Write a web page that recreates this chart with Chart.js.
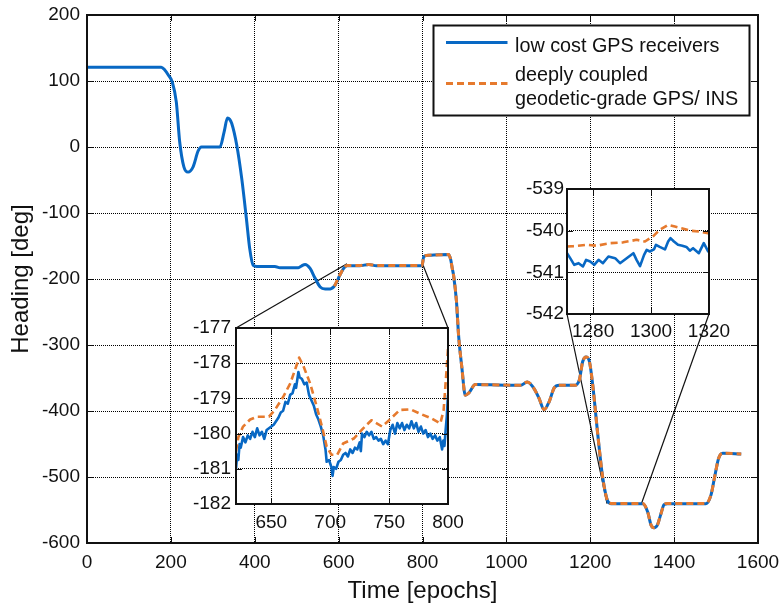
<!DOCTYPE html>
<html><head><meta charset="utf-8">
<script src="https://cdn.jsdelivr.net/npm/chart.js@4/dist/chart.umd.min.js"></script>
<style>
html,body{margin:0;padding:0;background:#fff;}
#wrap{position:relative;width:781px;height:607px;overflow:hidden;background:#fff;}
#wrap canvas{position:absolute;}
</style></head><body>
<div id="wrap">
<canvas id="main" width="781" height="607" style="left:0px;top:0px"></canvas>
<canvas id="inset1" width="300" height="222" style="left:176px;top:318px"></canvas>
<canvas id="inset2" width="235" height="168" style="left:507px;top:179px"></canvas>
</div>
<script>
// ---------------- data ----------------
const seriesLabels = ['low cost GPS receivers', ['deeply coupled', 'geodetic-grade GPS/ INS']];
const xTitle = 'Time [epochs]';
const yTitle = 'Heading [deg]';

const mainXTicks = [0, 200, 400, 600, 800, 1000, 1200, 1400, 1600];
const mainYTicks = [-600, -500, -400, -300, -200, -100, 0, 100, 200];

const lowCostEpoch = [0,177,185,195,203,213,221,231,241,253,265,273,317,327,335,340,345,357,369,380,388,396,405,448,460,504,512,520,532,544,556,568,580,592,603,612,620,650,672,690,750,799,803,815,862,867,871,874,881,886,894,902,910,926,1034,1050,1066,1078,1090,1102,1114,1126,1162,1174,1182,1190,1198,1206,1218,1230,1242,1250,1325,1337,1345,1352,1360,1368,1376,1384,1476,1488,1496,1506,1516,1560];
const lowCostHeading = [121,121,117,108,99,68,8,-30,-38,-30,-6,0,0,23,44,42,36,3,-48,-108,-154,-179,-181,-181,-183,-183,-180,-178,-184,-199,-212,-215,-215,-209,-194,-184,-180,-180,-178,-180,-180,-180,-166,-164,-163,-170,-184,-194,-234,-285,-335,-376,-373,-360,-361,-356,-366,-381,-398,-386,-365,-361,-361,-353,-325,-318,-325,-361,-436,-502,-537,-540.5,-540.5,-553,-573,-577,-573,-557,-542,-540.5,-540.5,-527,-502,-472,-464,-465];

const coupledEpoch = [590,603,612,620,650,672,690,750,799,803,815,862,867,871,874,881,886,894,902,910,926,1034,1050,1066,1078,1090,1102,1114,1126,1162,1174,1182,1190,1198,1206,1218,1230,1242,1250,1325,1337,1345,1352,1360,1368,1376,1384,1476,1488,1496,1506,1516,1560];
const coupledHeading = [-211,-194,-184,-179.5,-179.5,-178,-179.5,-179.5,-179.5,-166,-164,-163,-170,-184,-194,-234,-285,-335,-376,-373,-360,-361,-356,-366,-381,-398,-386,-365,-361,-361,-353,-325,-318,-325,-361,-436,-502,-537,-540,-540,-553,-573,-577,-573,-557,-542,-540,-540,-527,-502,-472,-464,-465];

// inset 1 (epochs 620-800)
const inset1XTicks = [650, 700, 750, 800];
const inset1YTicks = [-182, -181, -180, -179, -178, -177];
const inset1LowEpoch = [620,621,622,623,624,626,628,630,632,634,636,638,640,642,644,646,648,650,652,654,656,658,660,662,664,666,668,670,671,673,674,676,678,680,682,684,686,688,690,692,694,696,697,699,701,702,703,705,707,709,711,713,715,717,719,721,723,725,726,727,729,731,733,735,737,739,741,743,745,747,749,751,753,755,757,759,761,763,765,767,769,771,773,775,777,779,781,783,785,787,789,791,793,795,796,797,798,799,800];
const inset1LowHeading = [-181.0,-180.6,-180.75,-180.3,-180.4,-180.1,-180.25,-180.05,-180.15,-179.95,-180.1,-179.85,-180.05,-179.95,-180.15,-179.9,-179.85,-179.8,-179.75,-179.65,-179.55,-179.4,-179.35,-179.1,-179.15,-178.9,-178.85,-178.6,-178.7,-178.25,-178.4,-178.45,-178.6,-178.55,-178.9,-179.05,-179.2,-179.45,-179.6,-179.8,-180.05,-180.45,-180.8,-180.75,-180.95,-181.2,-180.95,-181.0,-180.8,-180.75,-180.6,-180.55,-180.65,-180.45,-180.55,-180.4,-180.45,-180.25,-180.5,-180.0,-180.1,-179.95,-180.05,-179.95,-180.15,-180.1,-180.2,-180.15,-180.3,-180.2,-180.3,-179.9,-179.75,-180.0,-179.7,-179.85,-179.7,-179.9,-179.75,-179.85,-179.65,-179.85,-179.7,-179.95,-179.8,-180.0,-179.9,-180.1,-180.0,-180.15,-180.05,-180.2,-180.1,-180.45,-180.2,-180.35,-179.9,-179.5,-178.9];
const inset1CoupledEpoch = [620,622,626,632,638,648,653,660,666,670,673.6,677,683,688.6,693,697,701,706,711,720,728,735,744,750,759,768,776,786,793.5,796.3,799.2,800];
const inset1CoupledHeading = [-180.5,-180.1,-179.8,-179.6,-179.52,-179.52,-179.33,-178.96,-178.58,-178.2,-177.84,-178.06,-178.58,-179.24,-179.8,-180.37,-180.6,-180.6,-180.28,-180.14,-179.85,-179.62,-179.8,-179.62,-179.33,-179.31,-179.43,-179.57,-179.71,-179.33,-178.0,-177.6];

// inset 2 (epochs 1271-1320)
const inset2XTicks = [1280, 1300, 1320];
const inset2YTicks = [-542, -541, -540, -539];
const inset2LowEpoch = [1271,1272.1,1273.5,1275,1276.5,1277.6,1279,1280.4,1281.9,1283.4,1285.3,1287.6,1289.3,1291.6,1293.9,1295,1296.2,1297.6,1298.5,1299.6,1301,1301.7,1303,1304.8,1305.9,1306.7,1307.9,1309.3,1310.8,1312.2,1313.4,1314.5,1316.5,1318.2,1319.7,1320];
const inset2LowHeading = [-540.54,-540.66,-540.82,-540.78,-540.86,-540.7,-540.74,-540.82,-540.7,-540.78,-540.62,-540.66,-540.78,-540.66,-540.54,-540.7,-540.85,-540.58,-540.46,-540.5,-540.45,-540.34,-540.39,-540.45,-540.26,-540.18,-540.26,-540.34,-540.36,-540.39,-540.48,-540.42,-540.54,-540.3,-540.5,-540.45];
const inset2CoupledEpoch = [1271,1273.3,1277.9,1281.3,1285.9,1290.4,1295,1297.9,1300.8,1303,1305.9,1308.2,1310.5,1313.4,1316.8,1319.7,1320];
const inset2CoupledHeading = [-540.38,-540.37,-540.34,-540.36,-540.3,-540.28,-540.22,-540.26,-540.13,-539.98,-539.86,-539.9,-539.94,-540.0,-540.02,-540.06,-540.07];

// zoom connector anchors (data coordinates on the main axes)
const zoomLinks = [
  {inset: 'inset1', corner: 'topLeft', x: 620, y: -177},
  {inset: 'inset1', corner: 'topRight', x: 800, y: -177},
  {inset: 'inset2', corner: 'bottomLeft', x: 1240, y: -540.5},
  {inset: 'inset2', corner: 'bottomRight', x: 1322, y: -540.5}
];

// ---------------- style ----------------
const FONT = "'Liberation Sans', Arial, Helvetica, sans-serif";
const BLUE = '#0868c4';
const ORANGE = '#e67a2e';
const INK = '#111';

const pts = (xs, ys) => xs.map((x, i) => ({x: x, y: ys[i]}));
const setTicks = arr => s => { s.ticks = arr.map(v => ({value: v})); };

const framePlugin = {
  id: 'frame',
  beforeDraw(chart) {
    const a = chart.chartArea, c = chart.ctx;
    c.save(); c.fillStyle = '#fff';
    c.fillRect(a.left, a.top, a.right - a.left, a.bottom - a.top);
    c.restore();
  },
  afterDatasetsDraw(chart) {
    const a = chart.chartArea, c = chart.ctx, xs = chart.scales.x, ys = chart.scales.y, L = 6;
    c.save();
    c.strokeStyle = INK; c.lineWidth = 1;
    c.beginPath();
    xs.ticks.forEach(t => {
      const p = Math.round(xs.getPixelForValue(t.value)) + 0.5;
      c.moveTo(p, a.bottom); c.lineTo(p, a.bottom - L);
      c.moveTo(p, a.top); c.lineTo(p, a.top + L);
    });
    ys.ticks.forEach(t => {
      const p = Math.round(ys.getPixelForValue(t.value)) + 0.5;
      c.moveTo(a.left, p); c.lineTo(a.left + L, p);
      c.moveTo(a.right, p); c.lineTo(a.right - L, p);
    });
    c.stroke();
    c.lineWidth = 2;
    c.strokeRect(a.left, a.top, a.right - a.left, a.bottom - a.top);
    c.restore();
  }
};

function fixSize(isX, size) {
  return s => {
    if (isX) s.height = size; else s.width = size;
    s.paddingLeft = 0; s.paddingRight = 0; s.paddingTop = 0; s.paddingBottom = 0;
  };
}

function axisCfg(min, max, ticksArr, isX, size, pad, title, titlePad) {
  const cfg = {
    type: 'linear', min: min, max: max,
    afterBuildTicks: setTicks(ticksArr),
    afterFit: fixSize(isX, size),
    ticks: {font: {family: FONT, size: 19}, color: INK, padding: pad, maxRotation: 0, autoSkip: false,
            callback: v => String(v)},
    grid: {color: '#000', lineWidth: 1, drawTicks: false},
    border: {display: false, dash: [1, 1]}
  };
  if (title) cfg.title = {display: true, text: title, color: INK, font: {family: FONT, size: 24}, padding: titlePad};
  return cfg;
}

function lineDs(label, data, color, dashed, width, mono, order) {
  return {
    label: label, data: data, borderColor: color, backgroundColor: color,
    borderWidth: width, borderDash: dashed ? [7, 4] : [], pointRadius: 0, fill: false,
    cubicInterpolationMode: mono ? 'monotone' : 'default', tension: 0, order: order,
    borderCapStyle: 'butt', borderJoinStyle: 'round'
  };
}

const baseOpts = {
  responsive: false, animation: false, devicePixelRatio: 1,
  plugins: {legend: {display: false}, tooltip: {enabled: false}}
};

// ---------------- insets ----------------
const insetCharts = {};
insetCharts.inset1 = new Chart(document.getElementById('inset1'), {
  type: 'line',
  data: {datasets: [
    lineDs(seriesLabels[0], pts(inset1LowEpoch, inset1LowHeading), BLUE, false, 2.6, false, 2),
    lineDs(seriesLabels[1].join(' '), pts(inset1CoupledEpoch, inset1CoupledHeading), ORANGE, true, 2.6, false, 1)
  ]},
  options: Object.assign({}, baseOpts, {
    layout: {padding: {left: 0, top: 10, right: 28, bottom: 0}},
    scales: {
      x: axisCfg(620, 800, inset1XTicks, true, 36, 7),
      y: axisCfg(-182, -177, inset1YTicks, false, 60, 5)
    }
  }),
  plugins: [framePlugin]
});
insetCharts.inset2 = new Chart(document.getElementById('inset2'), {
  type: 'line',
  data: {datasets: [
    lineDs(seriesLabels[0], pts(inset2LowEpoch, inset2LowHeading), BLUE, false, 2.6, false, 2),
    lineDs(seriesLabels[1].join(' '), pts(inset2CoupledEpoch, inset2CoupledHeading), ORANGE, true, 2.6, false, 1)
  ]},
  options: Object.assign({}, baseOpts, {
    layout: {padding: {left: 0, top: 10, right: 33, bottom: 0}},
    scales: {
      x: axisCfg(1271, 1320, inset2XTicks, true, 33, 6),
      y: axisCfg(-542, -539, inset2YTicks, false, 60, 3)
    }
  }),
  plugins: [framePlugin]
});

// ---------------- main ----------------
const extrasPlugin = {
  id: 'extras',
  beforeDatasetsDraw(chart) {
    const c = chart.ctx, xs = chart.scales.x, ys = chart.scales.y;
    c.save(); c.strokeStyle = INK; c.lineWidth = 1.2; c.setLineDash([]);
    zoomLinks.forEach(l => {
      const ic = insetCharts[l.inset], cv = ic.canvas, a = ic.chartArea;
      const ox = cv.offsetLeft, oy = cv.offsetTop;
      const cx = ox + (l.corner.indexOf('Left') >= 0 ? a.left : a.right);
      const cy = oy + (l.corner.indexOf('top') === 0 ? a.top : a.bottom);
      c.beginPath();
      c.moveTo(cx, cy);
      c.lineTo(xs.getPixelForValue(l.x), ys.getPixelForValue(l.y));
      c.stroke();
    });
    c.restore();
  },
  afterDraw(chart) {
    const c = chart.ctx, ds = chart.data.datasets;
    const bx = 433.5, by = 25.5, bw = 316, bh = 90;
    c.save();
    c.fillStyle = '#fff'; c.fillRect(bx, by, bw, bh);
    c.strokeStyle = INK; c.lineWidth = 2; c.strokeRect(bx, by, bw, bh);
    const sampleY = [42.5, 83.5];
    const textBase = [[52.3], [81, 105]];
    c.font = '19.8px ' + FONT; c.fillStyle = INK; c.textBaseline = 'alphabetic'; c.textAlign = 'left';
    seriesLabels.forEach((lab, i) => {
      const d = ds[i];
      c.save();
      c.strokeStyle = d.borderColor; c.lineWidth = 3; c.setLineDash(d.borderDash || []);
      c.beginPath(); c.moveTo(446, sampleY[i]); c.lineTo(507.5, sampleY[i]); c.stroke();
      c.restore();
      const lines = Array.isArray(lab) ? lab : [lab];
      lines.forEach((t, j) => c.fillText(t, 515, textBase[i][j]));
    });
    c.restore();
  }
};

new Chart(document.getElementById('main'), {
  type: 'line',
  data: {datasets: [
    lineDs(seriesLabels[0], pts(lowCostEpoch, lowCostHeading), BLUE, false, 3, true, 2),
    lineDs(seriesLabels[1].join(' '), pts(coupledEpoch, coupledHeading), ORANGE, true, 3, true, 1)
  ]},
  options: Object.assign({}, baseOpts, {
    layout: {padding: {left: 0, top: 15, right: 23, bottom: 0}},
    scales: {
      x: axisCfg(0, 1600, mainXTicks, true, 64, 8, xTitle, {top: 0, bottom: 1}),
      y: axisCfg(-600, 200, mainYTicks, false, 87, 7, yTitle, {top: 6.5, bottom: 0})
    }
  }),
  plugins: [framePlugin, extrasPlugin]
});
</script>
</body></html>
